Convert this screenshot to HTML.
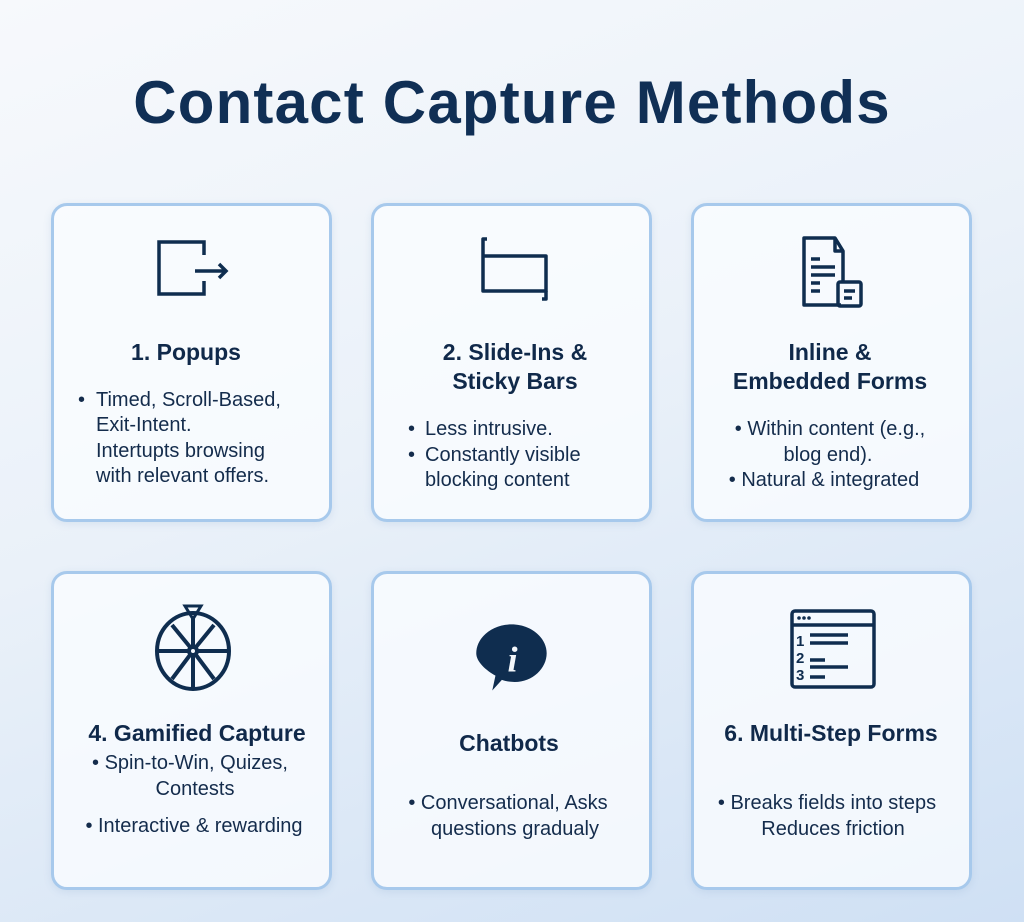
<!DOCTYPE html>
<html><head><meta charset="utf-8"><style>
*{margin:0;padding:0;box-sizing:border-box}
body{width:1024px;height:922px;overflow:hidden;position:relative;font-family:"Liberation Sans",sans-serif;color:#142c4c;
background:linear-gradient(160deg,#f7f9fc 0%,#eaf1f9 45%,#cfe0f4 100%)}
.t{position:absolute;left:0;width:1024px;text-align:center;top:68px;font-size:60px;letter-spacing:1.2px;font-weight:bold;color:#102f55}
.c{position:absolute;width:281px;height:319px;border:3px solid #a7c9ec;border-radius:16px;background:rgba(250,252,255,0.8);box-shadow:0 2px 8px rgba(100,140,190,0.15)}
.l{position:absolute;white-space:nowrap;font-size:20px;line-height:22px}
.h{font-weight:bold;font-size:23px;line-height:26px;color:#10294a}
.ctr{transform:translateX(-50%)}
svg{position:absolute}
</style></head><body>
<div class="t">Contact Capture Methods</div>
<div class="c" style="left:51px;top:203px"></div>
<div class="c" style="left:371px;top:203px"></div>
<div class="c" style="left:691px;top:203px"></div>
<div class="c" style="left:51px;top:571px"></div>
<div class="c" style="left:371px;top:571px"></div>
<div class="c" style="left:691px;top:571px"></div>

<!-- icons -->
<svg style="left:150px;top:235px" width="90" height="70" viewBox="0 0 90 70" fill="none" stroke="#0f2d4f" stroke-width="3.5">
<path d="M54 20V7H9v52h45V46"/><path d="M45 36h31M69 29l7 7-7 7"/></svg>
<svg style="left:470px;top:235px" width="90" height="70" viewBox="0 0 90 70" fill="none" stroke="#0f2d4f" stroke-width="3.5" stroke-linejoin="round">
<path d="M13 12V56h63V21H13"/><path d="M13 12V4h4"/><path d="M76 56v8h-4"/></svg>
<svg style="left:795px;top:232px" width="75" height="80" viewBox="0 0 75 80" fill="none" stroke="#0f2d4f" stroke-width="3.5" stroke-linejoin="round">
<path d="M48 50V19L40 6H9v67h37"/><path d="M40 6v13h8"/><path d="M16 27h9M16 35h24M16 43h24M16 51h9M16 59h9"/>
<rect x="43" y="50" width="23" height="24" rx="2"/><path d="M49 59h11M49 66h8"/></svg>
<svg style="left:150px;top:602px" width="86" height="90" viewBox="0 0 86 90" fill="none" stroke="#0f2d4f" stroke-width="4">
<ellipse cx="43" cy="49" rx="36" ry="38"/><circle cx="43" cy="49" r="4"/>
<path d="M43 15v30M43 53v34M7 49h32M47 49h32M22 23l18 22M46 53l18 24M64 23l-18 22M40 53l-18 24"/>
<path d="M35 4h16l-8 13z" stroke-width="3"/></svg>
<svg style="left:472px;top:618px" width="80" height="80" viewBox="0 0 75 75">
<path d="M37 6c19 0 33 13 33 27s-13 27-30 27c-5 0-9-1-12-2l-9 10 3-14C13 49 4 41 4 33 4 19 18 6 37 6z" fill="#0f2d4f"/>
<text x="38" y="50" font-family="Liberation Serif,serif" font-style="italic" font-weight="bold" font-size="34" fill="#f3f7fb" text-anchor="middle">i</text></svg>
<svg style="left:785px;top:608px" width="95" height="82" viewBox="0 0 95 82" fill="none" stroke="#0f2d4f" stroke-width="3.5">
<rect x="7" y="3" width="82" height="76" rx="3"/><path d="M7 17h82"/>
<g fill="#0f2d4f" stroke="none"><circle cx="14" cy="10" r="1.8"/><circle cx="19" cy="10" r="1.8"/><circle cx="24" cy="10" r="1.8"/>
<text x="11" y="38" font-family="Liberation Sans" font-weight="bold" font-size="15">1</text><text x="11" y="55" font-family="Liberation Sans" font-weight="bold" font-size="15">2</text><text x="11" y="72" font-family="Liberation Sans" font-weight="bold" font-size="15">3</text></g>
<path d="M25 27h38M25 35h38M25 52h15M25 59h38M25 69h15"/></svg>

<!-- card 1 -->
<div class="l h ctr" style="left:186px;top:339px">1. Popups</div>
<div class="l" style="left:78px;top:389px">•</div>
<div class="l" style="left:96px;top:389px">Timed, Scroll-Based,</div>
<div class="l" style="left:96px;top:414px">Exit-Intent.</div>
<div class="l" style="left:96px;top:440px">Intertupts browsing</div>
<div class="l" style="left:96px;top:465px">with relevant offers.</div>
<!-- card 2 -->
<div class="l h ctr" style="left:515px;top:339px">2. Slide-Ins &amp;</div>
<div class="l h ctr" style="left:515px;top:368px">Sticky Bars</div>
<div class="l" style="left:408px;top:418px">•</div>
<div class="l" style="left:425px;top:418px">Less intrusive.</div>
<div class="l" style="left:408px;top:444px">•</div>
<div class="l" style="left:425px;top:444px">Constantly visible</div>
<div class="l" style="left:425px;top:469px">blocking content</div>
<!-- card 3 -->
<div class="l h ctr" style="left:830px;top:339px">Inline &amp;</div>
<div class="l h ctr" style="left:830px;top:368px">Embedded Forms</div>
<div class="l ctr" style="left:830px;top:418px">• Within content (e.g.,</div>
<div class="l ctr" style="left:828px;top:444px">blog end).</div>
<div class="l ctr" style="left:824px;top:469px">• Natural &amp; integrated</div>
<!-- card 4 -->
<div class="l h ctr" style="left:197px;top:720px">4. Gamified Capture</div>
<div class="l ctr" style="left:190px;top:752px">• Spin-to-Win, Quizes,</div>
<div class="l ctr" style="left:195px;top:778px">Contests</div>
<div class="l ctr" style="left:194px;top:815px">• Interactive &amp; rewarding</div>
<!-- card 5 -->
<div class="l h ctr" style="left:509px;top:730px">Chatbots</div>
<div class="l ctr" style="left:508px;top:792px">• Conversational, Asks</div>
<div class="l ctr" style="left:515px;top:818px">questions gradualy</div>
<!-- card 6 -->
<div class="l h ctr" style="left:831px;top:720px">6. Multi-Step Forms</div>
<div class="l ctr" style="left:827px;top:792px">• Breaks fields into steps</div>
<div class="l ctr" style="left:833px;top:818px">Reduces friction</div>
</body></html>
